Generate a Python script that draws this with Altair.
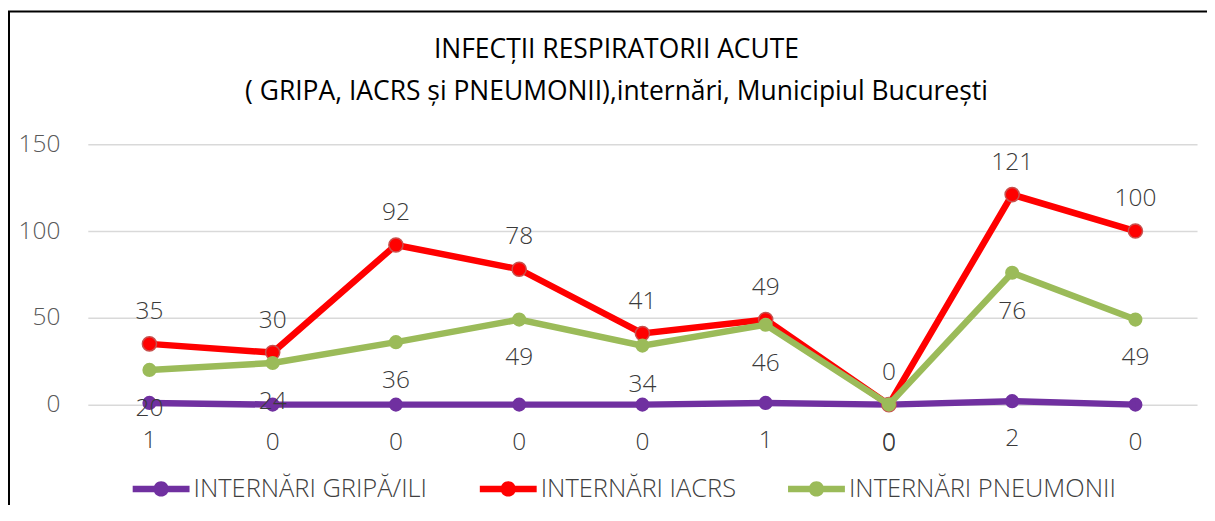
import altair as alt
import pandas as pd

weeks = ["1", "2", "3", "4", "5", "6", "7", "8", "9"]
gripa = [1, 0, 0, 0, 0, 1, 0, 2, 0]
iacrs = [35, 30, 92, 78, 41, 49, 0, 121, 100]
pneumonii = [20, 24, 36, 49, 34, 46, 0, 76, 49]
series_names = ["INTERNĂRI GRIPĂ/ILI", "INTERNĂRI IACRS", "INTERNĂRI PNEUMONII"]
series_colors = ["#7030A0", "#FF0000", "#9BBB59"]
y_ticks = [0, 50, 100, 150]
title_lines = ["INFECȚII RESPIRATORII ACUTE",
               "( GRIPA, IACRS și PNEUMONII),internări, Municipiul București"]

rows = []
for name, vals in zip(series_names, [gripa, iacrs, pneumonii]):
    for w, v in zip(weeks, vals):
        rows.append({"week": w, "series": name, "value": v})
df = pd.DataFrame(rows)

FONT = "Open Sans"
color_scale = alt.Scale(domain=series_names, range=series_colors)
x_enc = alt.X("week:N", sort=weeks, scale=alt.Scale(type="point", padding=0.5), axis=None)
y_enc = alt.Y("value:Q", scale=alt.Scale(domain=[0, 150]),
              axis=alt.Axis(values=y_ticks, title=None, domain=False, ticks=False,
                            grid=True, gridColor="#d9d9d9", gridWidth=1.5,
                            labelFontSize=24.5, labelColor="#595959", labelFont=FONT,
                            labelFontWeight=300, labelPadding=28))

legend_path = ("M-1,-0.115L1,-0.115L1,0.115L-1,0.115Z "
               "M0.27,0A0.27,0.27 0 1,1 -0.27,0A0.27,0.27 0 1,1 0.27,0Z")

legend = alt.Legend(title=None, orient="none", direction="horizontal",
                    legendX=45, legendY=317, symbolType=legend_path,
                    symbolSize=3249, symbolStrokeWidth=0, symbolOpacity=1,
                    labelFontSize=25.5, labelFont=FONT, labelFontWeight=300,
                    labelColor="#404040", labelOffset=4, columnPadding=52,
                    labelLimit=400)

point_strokes = {series_names[1]: "#C8504D"}

base = alt.Chart(df)
layers = []
label_dy = {series_names[0]: 38, series_names[1]: -32, series_names[2]: 39}
for i, (name, c) in enumerate(zip(series_names, series_colors)):
    sub = base.transform_filter(alt.datum.series == name)
    line = sub.mark_line(strokeWidth=6.5, color=c).encode(x=x_enc, y=y_enc)
    col = alt.Color("series:N", scale=color_scale,
                    legend=legend if i == 0 else None)
    if name in point_strokes:
        mk = sub.mark_circle(size=200, opacity=1, stroke=point_strokes[name], strokeWidth=1.5)
    else:
        mk = sub.mark_circle(size=200, opacity=1)
    pts = mk.encode(x=x_enc, y=y_enc, color=col)
    if i == 0:
        layers += [pts, line]
    else:
        layers += [line, pts]

for name in series_names:
    sub = base.transform_filter(alt.datum.series == name)
    txt = sub.mark_text(dy=label_dy[name], fontSize=24.5, font=FONT, fontWeight=300,
                        color="#3a3a3a", baseline="middle").encode(
        x=x_enc, y=y_enc, text="value:Q")
    layers.append(txt)

border = alt.Chart(alt.Data(values=[{"a": 1}])).mark_rect(
    fillOpacity=0, stroke="black", strokeWidth=2).encode(
    x=alt.value(-79), x2=alt.value(1300), y=alt.value(-133), y2=alt.value(600))
layers.append(border)

chart = alt.layer(*layers).properties(
    width=1112, height=261,
    title=alt.TitleParams(text=title_lines, anchor="middle", fontSize=26.5, font=FONT,
                          fontWeight="normal", color="#000000", lineHeight=42,
                          offset=-95, dx=-26),
    autosize=alt.AutoSizeParams(type="none"),
    padding={"left": 80, "top": 136, "right": 10, "bottom": 100},
).configure_view(stroke=None)

chart.save("out.html", embed_options={"renderer": "svg", "actions": False})
